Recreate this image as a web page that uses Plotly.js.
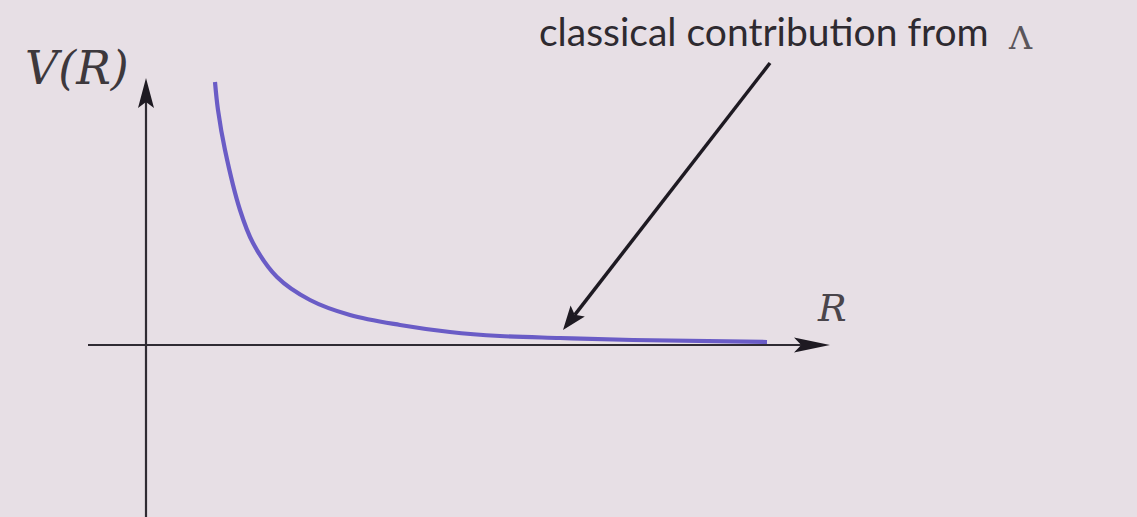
<!DOCTYPE html>
<html>
<head>
<meta charset="utf-8">
<script src="https://cdn.plot.ly/plotly-3.0.1.min.js"></script>
<style>
  html, body { margin: 0; padding: 0; background: #e7dfe5; }
  #chart { width: 1137px; height: 517px; }
</style>
</head>
<body>
<div id="chart"></div>
<script>
// ---- data ----
const R_values = [0.69, 0.72, 0.79, 0.94, 1.07, 1.31, 1.64, 2.04, 2.54, 3.04, 3.54, 4.14, 4.87, 6.21];
const V_values = [2.63, 2.35, 1.95, 1.35, 1.02, 0.68, 0.45, 0.30, 0.20, 0.13, 0.09, 0.07, 0.05, 0.03];
const yAxisLabel = "V(R)";
const xAxisLabel = "R";
const calloutText = "classical contribution from";
const calloutSymbol = "Λ";

// ---- layout geometry (1 unit = 100 px in both directions) ----
const W = 1137, H = 517;
const xRange = [-1.46, 9.91];
const yRange = [-1.72, 3.45];
const hAxis = { from: -0.58, to: 6.84 };
const vAxis = { from: -1.72, to: 2.67 };
const callout = { fromR: 6.24, fromV: 2.82, toR: 4.17, toV: 0.15 };

const axisColor = '#2f2b33';
const arrowColor = '#1e1a22';
const curveColor = '#6a5cc6';
const bg = '#e7dfe5';

function head(tipX, tipY, fromX, fromY, len, halfW) {
  const dx = tipX - fromX, dy = tipY - fromY;
  const d = Math.hypot(dx, dy);
  const ux = dx / d, uy = dy / d;
  const px = -uy, py = ux;
  const bx = tipX - ux * len, by = tipY - uy * len;
  const nx = tipX - ux * len * 0.8, ny = tipY - uy * len * 0.8;
  const c1 = [bx + px * halfW, by + py * halfW];
  const c2 = [bx - px * halfW, by - py * halfW];
  return {
    path: `M${tipX},${tipY} L${c1[0]},${c1[1]} L${nx},${ny} L${c2[0]},${c2[1]} Z`,
    base: [nx, ny]
  };
}

const hHead = head(hAxis.to, 0, hAxis.from, 0, 0.36, 0.075);
const vHead = head(0, vAxis.to, 0, vAxis.from, 0.30, 0.08);
const cHead = head(callout.toR, callout.toV, callout.fromR, callout.fromV, 0.24, 0.09);

const shapes = [
  { type: 'line', xref: 'x', yref: 'y', x0: hAxis.from, y0: 0, x1: hHead.base[0], y1: 0,
    line: { color: axisColor, width: 2.2 } },
  { type: 'path', xref: 'x', yref: 'y', path: hHead.path, fillcolor: arrowColor, line: { width: 0 } },
  { type: 'line', xref: 'x', yref: 'y', x0: 0, y0: vAxis.from, x1: 0, y1: vHead.base[1],
    line: { color: axisColor, width: 2.2 } },
  { type: 'path', xref: 'x', yref: 'y', path: vHead.path, fillcolor: arrowColor, line: { width: 0 } },
  { type: 'line', xref: 'x', yref: 'y', x0: callout.fromR, y0: callout.fromV, x1: cHead.base[0], y1: cHead.base[1],
    line: { color: arrowColor, width: 3.5 } },
  { type: 'path', xref: 'x', yref: 'y', path: cHead.path, fillcolor: arrowColor, line: { width: 0 } }
];

function px(x) { return x / W; }
function py(y) { return 1 - y / H; }

const annotations = [
  { xref: 'paper', yref: 'paper', x: px(77), y: py(68), text: yAxisLabel, showarrow: false,
    xanchor: 'center', yanchor: 'middle',
    font: { family: 'DejaVu Serif', size: 46, color: '#3d383c', style: 'italic' } },
  { xref: 'paper', yref: 'paper', x: px(832), y: py(308), text: xAxisLabel, showarrow: false,
    xanchor: 'center', yanchor: 'middle',
    font: { family: 'DejaVu Serif', size: 38, color: '#4a454b', style: 'italic' } },
  { xref: 'paper', yref: 'paper', x: px(991), y: py(31), text: calloutText, showarrow: false,
    xanchor: 'right', yanchor: 'middle',
    font: { family: 'Lato', size: 39, color: '#2e2a30' } },
  { xref: 'paper', yref: 'paper', x: px(1020), y: py(38), text: calloutSymbol, showarrow: false,
    xanchor: 'center', yanchor: 'middle',
    font: { family: 'DejaVu Serif', size: 32, color: '#5a555b' } }
];

const traces = [{
  x: R_values, y: V_values, type: 'scatter', mode: 'lines',
  line: { color: curveColor, width: 4.2, shape: 'spline', smoothing: 1 },
  hoverinfo: 'skip'
}];

const layout = {
  width: W, height: H,
  margin: { l: 0, r: 0, t: 0, b: 0, pad: 0 },
  paper_bgcolor: bg, plot_bgcolor: bg,
  showlegend: false,
  xaxis: { range: xRange, visible: false, fixedrange: true },
  yaxis: { range: yRange, visible: false, fixedrange: true },
  shapes: shapes,
  annotations: annotations
};

Plotly.newPlot('chart', traces, layout, { displayModeBar: false, staticPlot: true });
</script>
</body>
</html>
